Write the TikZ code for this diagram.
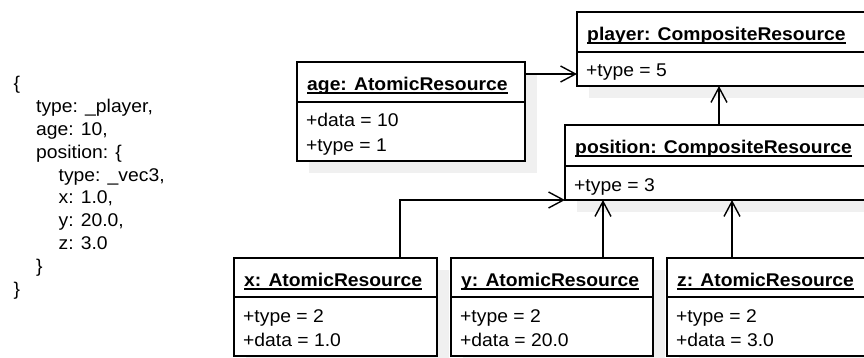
\documentclass[tikz,border=0pt]{standalone}
\usepackage{fontspec}
\setmainfont[FakeStretch=1.05]{Liberation Sans}
\usetikzlibrary{arrows.meta,shadows}
\definecolor{shadowgray}{RGB}{240,240,240}
\tikzset{
  objpart/.style={draw=black, line width=1.4pt, fill=white, rectangle,
    inner sep=0pt, outer sep=0pt, anchor=north west,
    drop shadow={shadow xshift=12pt, shadow yshift=-12pt, fill=shadowgray, draw=none, opacity=1}},
  objtitle/.style={anchor=base west, inner sep=0pt, font=\fontsize{18.4}{21}\selectfont\bfseries},
  objattr/.style={anchor=base west, inner sep=0pt, font=\fontsize{18.4}{21}\selectfont},
  codeline/.style={objattr},
  titlerule/.style={line width=1.3pt},
  assoc/.style={line width=1.4pt, -{Straight Barb[length=15pt,width=16pt]}},
}
% #1 name, #2 left, #3 top, #4 width, #5 header height, #6 body height, #7 title, #8 attributes
\newcommand\umlobject[8]{%
  \node[objpart, minimum width=#4pt, minimum height=#5pt] (#1) at (#2,#3) {};
  \node[objpart, minimum width=#4pt, minimum height=#6pt] (#1-body) at (#1.south west) {};
  \node[objtitle] (#1-title) at ([shift={(10pt,-28.7pt)}]#1.north west) {#7};
  \draw[titlerule] ([yshift=-2.4pt]#1-title.base west) -- ([yshift=-2.4pt]#1-title.base east);
  \foreach \a [count=\i] in {#8}
    \node[objattr] (#1-attr\i) at ([shift={(9pt,{-25pt-(\i-1)*24.3pt})}]#1-body.north west) {\a};
}
\begin{document}
\begin{tikzpicture}[x=1pt,y=-1pt]
\useasboundingbox (0,0) rectangle (864,358);
\clip (0,0) rectangle (864,358);

% object literal
\foreach \txt/\ind [count=\i] in {{\{}/0, {type: \_player,}/1, {age: 10,}/1, {position: \{}/1,
    {type: \_vec3,}/2, {x: 1.0,}/2, {y: 20.0,}/2, {z: 3.0}/2, {\}}/1, {\}}/0}
  \node[codeline] (json-\i) at ({13.5+\ind*22.5},{90+(\i-1)*22.8}) {\txt};

% object diagram
\umlobject{player}{577}{12}{300}{40}{34}{player: CompositeResource}{+type = 5}
\umlobject{age}{297}{62}{228}{40}{59}{age: AtomicResource}{+data = 10, +type = 1}
\umlobject{position}{565}{125}{300}{41}{34}{position: CompositeResource}{+type = 3}
\umlobject{xres}{234}{258}{203}{39}{59}{x: AtomicResource}{+type = 2, +data = 1.0}
\umlobject{yres}{451}{258}{202}{39}{59}{y: AtomicResource}{+type = 2, +data = 20.0}
\umlobject{zres}{667}{258}{202}{39}{59}{z: AtomicResource}{+type = 2, +data = 3.0}

% associations
\coordinate (agelink) at ([yshift=-12pt]age.north east);
\draw[assoc] (agelink) -- (agelink -| player.west);
\coordinate (poslink) at ([xshift=154pt]position.north west);
\draw[assoc] (poslink) -- (poslink |- player-body.south);
\coordinate (xlink) at ([xshift=166pt]xres.north west);
\draw[assoc] (xlink) |- (position-body.south west);
\coordinate (ylink) at ([xshift=152pt]yres.north west);
\draw[assoc] (ylink) -- (ylink |- position-body.south);
\coordinate (zlink) at ([xshift=65pt]zres.north west);
\draw[assoc] (zlink) -- (zlink |- position-body.south);
\end{tikzpicture}
\end{document}
